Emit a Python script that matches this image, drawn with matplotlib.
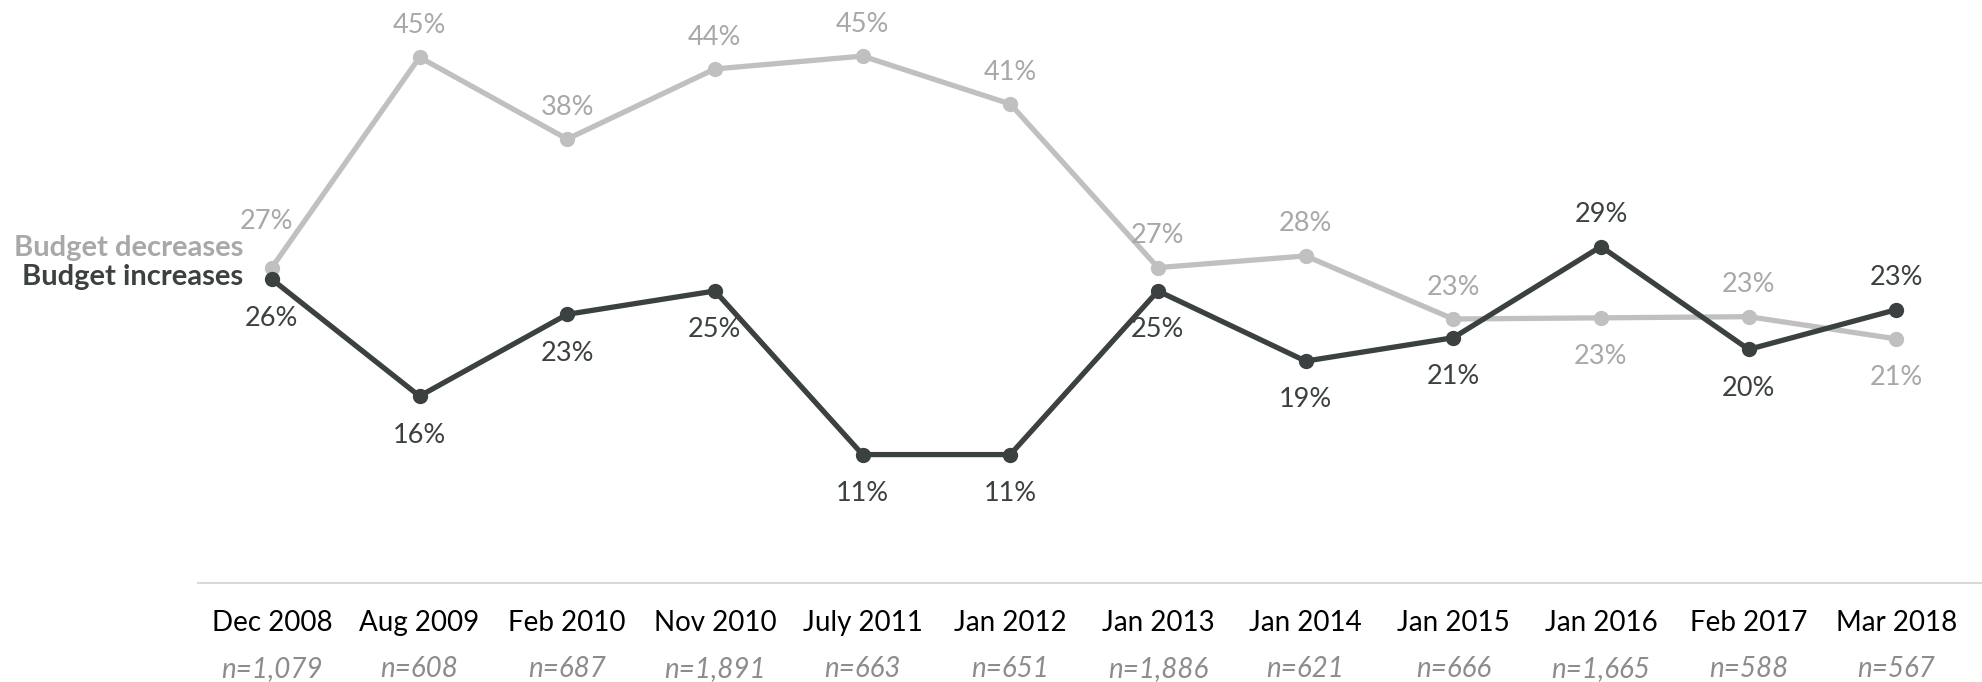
import matplotlib
matplotlib.use("Agg")
import matplotlib.pyplot as plt

plt.rcParams['font.family'] = ['Lato', 'DejaVu Sans']

dates = ['Dec 2008', 'Aug 2009', 'Feb 2010', 'Nov 2010', 'July 2011', 'Jan 2012',
         'Jan 2013', 'Jan 2014', 'Jan 2015', 'Jan 2016', 'Feb 2017', 'Mar 2018']
sample_sizes = ['n=1,079', 'n=608', 'n=687', 'n=1,891', 'n=663', 'n=651',
                'n=1,886', 'n=621', 'n=666', 'n=1,665', 'n=588', 'n=567']
decreases = [27, 45, 38, 44, 45.1, 41, 27, 28, 22.6, 22.7, 22.8, 20.9]
increases = [26, 16, 23, 25, 11, 11, 25, 19, 21, 28.8, 20, 23.4]

# label placement: +1 above the point, -1 below
dec_side = [1, 1, 1, 1, 1, 1, 1, 1, 1, -1, 1, -1]
inc_side = [-1, -1, -1, -1, -1, -1, -1, -1, -1, 1, -1, 1]

light = '#c0c0c0'
light_txt = '#a8a8a8'
dark = '#3b4040'

fig = plt.figure(figsize=(19.82, 6.82), dpi=100)
ax = fig.add_axes([0.0999, 0.145, 0.9001, 0.855])
x = list(range(len(dates)))

ax.plot(x, decreases, color=light, lw=3.8, marker='o', ms=10, zorder=2)
ax.plot(x, increases, color=dark, lw=3.8, marker='o', ms=10, zorder=3)

for i in x:
    dx, off = 0, (23 if dec_side[i] > 0 else -28)
    if i == 0:
        dx, off = -4, 33
    ax.annotate('{:.0f}%'.format(decreases[i]), (i, decreases[i]), xytext=(dx, off),
                textcoords='offset points', ha='center', va='center',
                fontsize=19.5, color=light_txt)
    off = 23 if inc_side[i] > 0 else -28
    ax.annotate('{:.0f}%'.format(increases[i]), (i, increases[i]), xytext=(0, off),
                textcoords='offset points', ha='center', va='center',
                fontsize=19.5, color=dark)

ax.set_xlim(-0.5, 11.58)
ax.set_ylim(0, 49.9)
ax.set_xticks([])
ax.set_yticks([])
for s in ['top', 'right', 'left']:
    ax.spines[s].set_visible(False)
ax.spines['bottom'].set_color('#d9d9d9')
ax.spines['bottom'].set_linewidth(1.5)

tr = ax.get_xaxis_transform()
for i in x:
    ax.text(i, -0.0686, dates[i], transform=tr, ha='center', va='center',
            fontsize=20, color='black')
    ax.text(i, -0.1475, sample_sizes[i], transform=tr, ha='center', va='center',
            fontsize=20, color='#8c8c8c', style='italic')

fig.text(0.1226, 0.6364, 'Budget decreases', ha='right', va='center',
         fontsize=21, fontweight='bold', color=light_txt)
fig.text(0.1226, 0.5938, 'Budget increases', ha='right', va='center',
         fontsize=21, fontweight='bold', color=dark)

fig.savefig('out.png', dpi=100)
